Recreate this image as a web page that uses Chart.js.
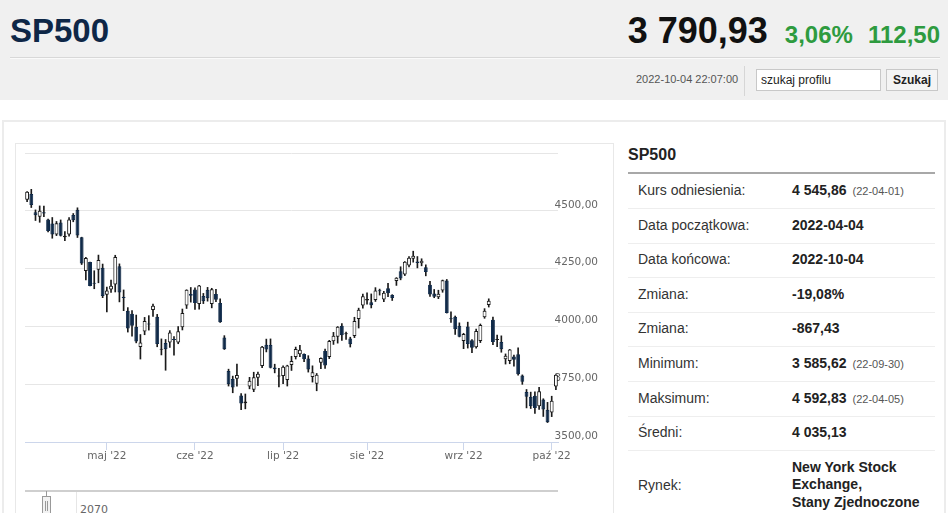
<!DOCTYPE html>
<html lang="pl">
<head>
<meta charset="UTF-8">
<title>SP500</title>
<script src="https://cdn.jsdelivr.net/npm/chart.js@4.4.1/dist/chart.umd.min.js"></script>
<style>
    body { margin: 0; width: 948px; height: 513px; overflow: hidden; background: #fff;
           font-family: "Liberation Sans", Arial, sans-serif; color: #333; position: relative; }
    .abs { position: absolute; }
    #header { left: 0; top: 0; width: 948px; height: 100px; background: #f0f0f0; }
    #title { left: 10px; top: 10px; font-size: 33px; font-weight: bold; color: #0e2747; line-height: 42px; }
    #quote { right: 8px; top: 10px; display: flex; align-items: baseline; line-height: 42px; font-weight: bold; }
    #quote .price { font-size: 36px; color: #111; }
    #quote .chg { font-size: 24px; color: #2e9b3f; margin-left: 17px; }
    #hline { left: 10px; top: 57px; width: 930px; height: 1px; background: #d8d8d8; border-bottom: 1px solid #fafafa; }
    #stamp { left: 636px; top: 73px; font-size: 11px; color: #555; }
    #sep { left: 744px; top: 66px; width: 1px; height: 30px; background: #d6d6d6; }
    #search { left: 756px; top: 69px; width: 125px; height: 22px; box-sizing: border-box; border: 1px solid #c8c8c8;
              background: #fff; font-size: 12px; color: #222; padding: 3px 0 0 4px; }
    #btn { left: 886px; top: 69px; width: 52px; height: 22px; box-sizing: border-box; border: 1px solid #c8c8c8;
           background: #f4f4f4; font-size: 12px; font-weight: bold; color: #222; text-align: center; line-height: 20px; }
    #content { left: 2px; top: 120px; width: 940px; height: 400px; border: 2px solid #ececec; }
    #chartbox { left: 15px; top: 143px; width: 597px; height: 380px; border: 1px solid #e8e8e8; }
    #chart { left: 15px; top: 143px; }
    #ptitle { left: 628px; top: 146px; font-size: 16px; font-weight: bold; color: #222; }
    #pline { left: 628px; top: 172px; width: 307px; height: 2px; background: #a8a8a8; }
    .row { left: 628px; width: 307px; height: 34px; border-bottom: 1px solid #eeeeee; font-size: 14px; }
    .row .lab { position: absolute; left: 10px; top: 8px; color: #333; }
    .row .val { position: absolute; left: 164px; top: 8px; color: #222; font-weight: bold; white-space: nowrap; }
    .row .val small { font-size: 11px; font-weight: normal; color: #555; margin-left: 6px; }
    #navline { left: 25px; top: 490px; width: 533px; height: 2px; background: #cfcfcf; }
    #navgrid { left: 76px; top: 492px; width: 1px; height: 21px; background: #e6e6e6; }
    #navstem { left: 46px; top: 491px; width: 1px; height: 6px; background: #999; }
    #navhandle { left: 42px; top: 496px; width: 7px; height: 18px; border: 1px solid #999; background: #f2f2f2; }
    #navhandle i { position: absolute; top: 4px; width: 1px; height: 10px; background: #999; }
    #navlabel { left: 80px; top: 503px; font-family: "DejaVu Sans", sans-serif; font-size: 11px; color: #666; }
</style>
</head>
<body>
<div id="header" class="abs"></div>
<div id="title" class="abs">SP500</div>
<div id="quote" class="abs"><span class="price">3 790,93</span><span class="chg">3,06%</span><span class="chg" style="margin-left:15px">112,50</span></div>
<div id="hline" class="abs"></div>
<div id="stamp" class="abs">2022-10-04 22:07:00</div>
<div id="sep" class="abs"></div>
<div id="search" class="abs">szukaj profilu</div>
<div id="btn" class="abs">Szukaj</div>

<div id="content" class="abs"></div>
<div id="chartbox" class="abs"></div>
<canvas id="chart" class="abs" width="598" height="327"></canvas>

<div id="navline" class="abs"></div>
<div id="navgrid" class="abs"></div>
<div id="navstem" class="abs"></div>
<div id="navhandle" class="abs"><i style="left:2px"></i><i style="left:4px"></i></div>
<div id="navlabel" class="abs">2070</div>

<div id="ptitle" class="abs">SP500</div>
<div id="pline" class="abs"></div>
<div id="rows"></div>

<script>
    // trading days shown on the chart
    const dates = [
        '2022-04-04','2022-04-05','2022-04-06','2022-04-07','2022-04-08','2022-04-11','2022-04-12','2022-04-13','2022-04-14',
        '2022-04-18','2022-04-19','2022-04-20','2022-04-21','2022-04-22','2022-04-25','2022-04-26','2022-04-27','2022-04-28','2022-04-29',
        '2022-05-02','2022-05-03','2022-05-04','2022-05-05','2022-05-06','2022-05-09','2022-05-10','2022-05-11','2022-05-12','2022-05-13',
        '2022-05-16','2022-05-17','2022-05-18','2022-05-19','2022-05-20','2022-05-23','2022-05-24','2022-05-25','2022-05-26','2022-05-27',
        '2022-05-31','2022-06-01','2022-06-02','2022-06-03','2022-06-06','2022-06-07','2022-06-08','2022-06-09','2022-06-10',
        '2022-06-13','2022-06-14','2022-06-15','2022-06-16','2022-06-17','2022-06-21','2022-06-22','2022-06-23','2022-06-24',
        '2022-06-27','2022-06-28','2022-06-29','2022-06-30','2022-07-01','2022-07-05','2022-07-06','2022-07-07','2022-07-08',
        '2022-07-11','2022-07-12','2022-07-13','2022-07-14','2022-07-15','2022-07-18','2022-07-19','2022-07-20','2022-07-21','2022-07-22',
        '2022-07-25','2022-07-26','2022-07-27','2022-07-28','2022-07-29','2022-08-01','2022-08-02','2022-08-03','2022-08-04','2022-08-05',
        '2022-08-08','2022-08-09','2022-08-10','2022-08-11','2022-08-12','2022-08-15','2022-08-16','2022-08-17','2022-08-18','2022-08-19',
        '2022-08-22','2022-08-23','2022-08-24','2022-08-25','2022-08-26','2022-08-29','2022-08-30','2022-08-31','2022-09-01','2022-09-02',
        '2022-09-06','2022-09-07','2022-09-08','2022-09-09','2022-09-12','2022-09-13','2022-09-14','2022-09-15','2022-09-16',
        '2022-09-19','2022-09-20','2022-09-21','2022-09-22','2022-09-23','2022-09-26','2022-09-27','2022-09-28','2022-09-29','2022-09-30',
        '2022-10-03','2022-10-04'
    ];
    const opens = [
        4547.97,4572.45,4494.17,4474.65,4494.15,4462.64,4445,4397,4449.12,
        4385.63,4398,4482,4505,4385.83,4240,4278.14,4186.52,4245,4253.75,
        4137,4159.78,4181.18,4260,4128.17,4068,4055,3998,3911,3978,
        4013.02,4071,4042,3899,3927.76,3930,3942.94,3930,3996,4090,
        4140,4160,4097,4132,4159,4096.47,4140,4101.65,3952,
        3807,3772,3774,3701,3668,3740,3726,3778,3829,
        3920.76,3920,3822,3783,3786,3768,3833,3868,3880,
        3880.94,3861,3781,3752,3843,3894,3868,3935.32,3955.47,4003,
        3965.72,3948,3959,4032,4090,4112.38,4104.21,4114,4154.85,4115.87,
        4165,4136,4196,4239,4225.02,4263,4293,4280.4,4273.13,4256,
        4180,4142,4126.55,4155,4198.74,4034.58,4041.25,4003,3936.73,4000,
        3940,3909.43,3937,4040,4093,4029,3940.73,3932.41,3858,
        3849.91,3870,3880,3788,3716,3696,3700,3655,3684,3640,
        3628,3740
    ];
    const highs = [
        4583.5,4592.83,4503.94,4521.16,4520.41,4464.35,4471,4453.92,4460.46,
        4410.31,4471.03,4488.29,4512.94,4385.83,4299.02,4278.14,4240.71,4308.45,4269.68,
        4169.81,4200.1,4307.66,4270.43,4157.69,4081.27,4068.82,4049.09,3964.8,4038.88,
        4046.46,4097,4051.98,3945.96,3943.42,3981.88,3955.68,3999.33,4075.14,4158.49,
        4168.34,4166.54,4177.51,4142.67,4168.78,4164.86,4160.14,4119.1,3960,
        3815,3785,3837.56,3709,3707.71,3779.65,3801.79,3802.58,3913.65,
        3945,3945.86,3836.5,3818.99,3829.82,3832.19,3870.91,3910.63,3918.5,
        3880.94,3873.41,3829.44,3796.41,3863.62,3902.44,3939.81,3974.13,3999.29,4012.44,
        3975.3,3953.22,4039.56,4078.95,4140.15,4144.95,4140.47,4167.66,4161.29,4151.58,
        4186.62,4137.3,4211.03,4257.91,4280.47,4301.79,4325.28,4302.18,4292.53,4266.31,
        4195.08,4159.77,4156.56,4200.54,4203.04,4062.99,4044.98,4015.37,3970.23,4018.43,
        3942.55,3987.89,4010.5,4076.81,4119.28,4040,3961.94,3959.14,3880.95,
        3900.45,3876.01,3907.07,3790.28,3727.14,3715.67,3717.53,3736.74,3687.01,3671.44,
        3698,3791.92
    ];
    const lows = [
        4539.21,4514.17,4458,4450.3,4474.6,4408.38,4381.34,4392.7,4390.77,
        4370.3,4390.63,4452.53,4384.47,4267.62,4200.82,4175.04,4162.9,4188.63,4124.28,
        4062.51,4147.08,4148.91,4106.01,4067.91,3975.48,3958.17,3928.82,3858.87,3963.9,
        3983.99,4043,3911.91,3876.58,3810.32,3909.04,3875.13,3925.03,3984.6,4077.43,
        4104.88,4073.85,4074.37,4098.67,4109.18,4080.19,4107.2,4017.17,3900.16,
        3742,3713,3742,3639.77,3643.41,3730,3717.69,3743.52,3821.75,
        3889.66,3820.14,3799.02,3738.67,3752.1,3742.06,3809.37,3858.85,3869.34,
        3847.22,3802.36,3759.07,3721.56,3817.18,3818.63,3860.73,3922.03,3927.64,3938.85,
        3943.46,3910.74,3951.43,3992.97,4079.22,4096.02,4079.81,4107.96,4135.42,4107.31,
        4128.97,4112.09,4177.26,4201.41,4219.78,4256.9,4277.77,4253.08,4261.98,4218.7,
        4129.86,4124.03,4119.97,4147.59,4057.66,4017.42,3965.21,3954.53,3903.65,3906.21,
        3886.75,3906.03,3930,4035,4083.67,3921.06,3912.54,3888.28,3837.08,
        3838.5,3827.54,3789.49,3749.45,3647.47,3644.76,3623.29,3640.61,3610.4,3584.13,
        3609.78,3726.46
    ];
    const closes = [
        4582.64,4525.12,4481.15,4500.21,4488.28,4412.53,4397.45,4446.59,4392.59,
        4391.69,4462.21,4459.45,4393.66,4271.78,4296.12,4175.2,4183.96,4287.5,4131.93,
        4155.38,4175.48,4300.17,4146.87,4123.34,3991.24,4003,3935.18,3930.08,4023.89,
        4008.01,4088.85,3923.68,3900.79,3901.36,3973.75,3941.48,3978.73,4057.84,4158.24,
        4132.15,4101.23,4176.82,4108.54,4121.43,4160.68,4115.77,4017.82,3900.86,
        3749.63,3735.48,3789.99,3666.77,3674.84,3764.79,3780,3795.73,3911.74,
        3900.11,3821.55,3815,3786,3825.33,3831.39,3850,3902.62,3899.38,
        3858,3814,3801.78,3790.38,3863.16,3830.85,3936.69,3959.9,3998.95,3961.63,
        3966.84,3923,4023.61,4072.43,4130.29,4118.63,4091.19,4155.17,4151.94,4145.19,
        4143,4122.47,4210.24,4207.27,4280.15,4297.14,4305.2,4274.04,4283.74,4235,
        4137.99,4128.73,4140.77,4199.12,4057.66,4030.61,3988,3955,3966.85,3924.26,
        3908.19,3979.87,4006.18,4067.36,4110.41,3932.69,3946.01,3901.35,3873.33,
        3899.89,3855.93,3793,3761,3696,3655.04,3647.29,3719.04,3640.47,3585.62,
        3678.43,3790.93
    ];
    const monthNames = ['sty','lut','mar','kwi','maj','cze','lip','sie','wrz','paź','lis','gru'];
    const yTicks = [3500, 3750, 4000, 4250, 4500, 4750];

    // side table
    const statLabels = ['Kurs odniesienia:', 'Data początkowa:', 'Data końcowa:', 'Zmiana:', 'Zmiana:',
                        'Minimum:', 'Maksimum:', 'Średni:', 'Rynek:'];
    const statValues = ['4 545,86', '2022-04-04', '2022-10-04', '-19,08%', '-867,43',
                        '3 585,62', '4 592,83', '4 035,13', 'New York Stock<br>Exchange,<br>Stany Zjednoczone'];
    const statDates = ['(22-04-01)', '', '', '', '', '(22-09-30)', '(22-04-05)', '', ''];

    const rows = document.getElementById('rows');
    statLabels.forEach((lab, i) => {
        const r = document.createElement('div');
        r.className = 'row abs';
        r.style.top = (174 + i * 34.6) + 'px';
        let val = statValues[i];
        if (statDates[i]) val += '<small>' + statDates[i] + '</small>';
        if (i === statLabels.length - 1) {
            r.style.height = '70px';
            r.style.borderBottom = 'none';
            r.innerHTML = '<span class="lab" style="top:26px">' + lab + '</span>' +
                '<span class="val" style="top:8px;line-height:17.5px">' + val + '</span>';
        } else {
            r.innerHTML = '<span class="lab">' + lab + '</span><span class="val">' + val + '</span>';
        }
        rows.appendChild(r);
    });

    const downColor = '#0f2a4a';
    const tickFont = { family: 'DejaVu Sans', size: 10.5 };

    function fmt(v) {
        return v.toFixed(2).replace('.', ',');
    }

    const ctx = document.getElementById('chart').getContext('2d');
    new Chart(ctx, {
        type: 'bar',
        data: {
            labels: dates,
            datasets: [
                {
                    label: 'body',
                    data: dates.map((d, i) => [opens[i], closes[i]]),
                    backgroundColor: closes.map((c, i) => c < opens[i] ? downColor : '#ffffff'),
                    borderColor: closes.map((c, i) => c < opens[i] ? downColor : '#1a1a1a'),
                    borderWidth: 1,
                    borderSkipped: false,
                    grouped: false,
                    categoryPercentage: 1,
                    barPercentage: 0.92,
                    minBarLength: 1
                },
                {
                    label: 'wick',
                    data: dates.map((d, i) => [lows[i], highs[i]]),
                    backgroundColor: '#1a1a1a',
                    borderWidth: 0,
                    grouped: false,
                    barThickness: 1
                }
            ]
        },
        options: {
            responsive: false,
            devicePixelRatio: 1,
            animation: false,
            layout: { padding: { left: 10, top: 10, right: 0, bottom: 0 } },
            plugins: { legend: { display: false }, tooltip: { enabled: false } },
            scales: {
                x: {
                    type: 'category',
                    offset: true,
                    grid: { offset: false, drawOnChartArea: false, drawTicks: true, tickLength: 8, color: '#ccd6eb' },
                    border: { display: true, color: '#ccd6eb' },
                    ticks: {
                        autoSkip: false, maxRotation: 0, padding: 0, color: '#666', font: tickFont,
                        callback: function (value, index) {
                            if (index === 0) return null;
                            const d = dates[index], p = dates[index - 1];
                            if (d.slice(5, 7) === p.slice(5, 7)) return null;
                            return monthNames[+d.slice(5, 7) - 1] + " '" + d.slice(2, 4);
                        }
                    },
                    afterFit: s => { s.height = 28; s.paddingLeft = 0; s.paddingRight = 0; }
                },
                y: {
                    position: 'right',
                    min: yTicks[0],
                    max: yTicks[yTicks.length - 1],
                    afterBuildTicks: s => { s.ticks = yTicks.map(v => ({ value: v })); },
                    grid: {
                        drawTicks: false,
                        color: c => c.tick && c.tick.value === yTicks[0] ? 'rgba(0,0,0,0)' : '#e6e6e6'
                    },
                    border: { display: false },
                    ticks: {
                        mirror: true, crossAlign: 'near', padding: 40, labelOffset: -6,
                        color: '#666', font: tickFont,
                        callback: v => v === yTicks[yTicks.length - 1] ? '' : fmt(v)
                    },
                    afterFit: s => { s.width = 55; s.paddingTop = 0; s.paddingBottom = 0; }
                }
            }
        }
    });
</script>
</body>
</html>
